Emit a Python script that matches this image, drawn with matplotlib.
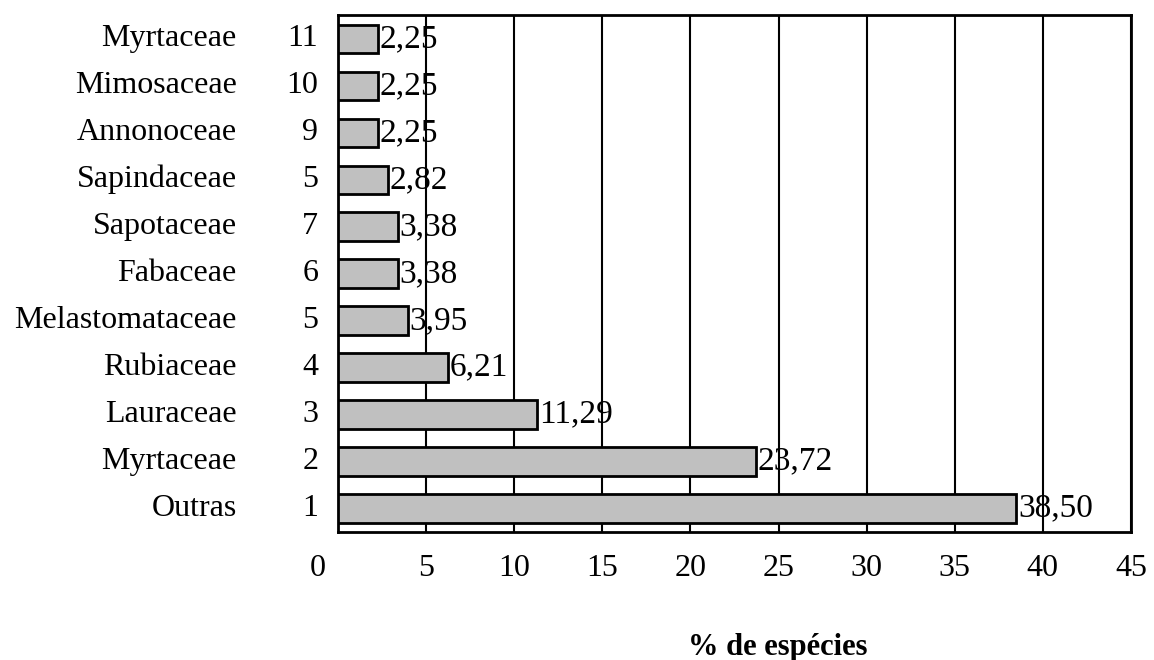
import matplotlib
matplotlib.use("Agg")
import matplotlib.pyplot as plt
import matplotlib.transforms as mtransforms

# Famílias (de baixo para cima), ordem e % de espécies
familias = ["Outras", "Myrtaceae", "Lauraceae", "Rubiaceae", "Melastomataceae",
            "Fabaceae", "Sapotaceae", "Sapindaceae", "Annonoceae", "Mimosaceae",
            "Myrtaceae"]
ordem = ["1", "2", "3", "4", "5", "6", "7", "5", "9", "10", "11"]
percentual = [38.50, 23.72, 11.29, 6.21, 3.95, 3.38, 3.38, 2.82, 2.25, 2.25, 2.25]
ticks_x = [0, 5, 10, 15, 20, 25, 30, 35, 40, 45]

plt.rcParams['font.family'] = ['Liberation Serif', 'DejaVu Serif']
plt.rcParams['font.size'] = 23

fig = plt.figure(figsize=(11.54, 6.6), dpi=100)
ax = fig.add_axes([0.293, 0.194, 0.687, 0.783])

pos = list(range(len(familias)))
ax.barh(pos, percentual, height=0.6, color='#c0c0c0', edgecolor='black',
        linewidth=2, zorder=3)

# rótulos de valor ao lado das barras
for y, v in zip(pos, percentual):
    ax.text(v + 0.1, y, f"{v:.2f}".replace('.', ','), va='center', ha='left',
            fontsize=24, zorder=4)

# nomes das famílias e ordem, à esquerda do eixo
trans = mtransforms.blended_transform_factory(ax.transAxes, ax.transData)
for y, nome, n in zip(pos, familias, ordem):
    ax.text(-0.128, y, nome, ha='right', va='center', transform=trans)
    ax.text(-0.025, y, n, ha='right', va='center', transform=trans)

ax.set_xlim(0, 45)
ax.set_ylim(-0.5, len(familias) - 0.5)
ax.set_yticks([])
ax.set_xticks(ticks_x)
ax.set_xticklabels([str(t) for t in ticks_x])
ax.tick_params(axis='x', length=0, pad=16)
# desloca o "0" um pouco para a esquerda
lbl0 = ax.get_xticklabels()[0]
lbl0.set_transform(lbl0.get_transform() +
                   mtransforms.ScaledTranslation(-0.2, 0, fig.dpi_scale_trans))

ax.grid(axis='x', color='black', linewidth=1.5, zorder=0)
ax.set_axisbelow(True)
for s in ax.spines.values():
    s.set_linewidth(2)

ax.set_xlabel("% de espécies", fontweight='bold', fontsize=22,
              labelpad=36, x=0.555)

fig.savefig("out.png", dpi=100)
